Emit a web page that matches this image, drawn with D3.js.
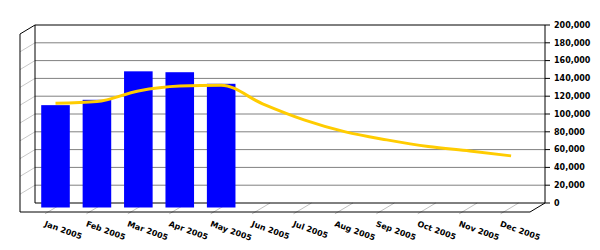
<!DOCTYPE html>
<html>
<head>
<meta charset="utf-8">
<script src="https://cdn.jsdelivr.net/npm/d3@7"></script>
<style>
  body { margin: 0; background: #fff; }
  svg text { font-family: "DejaVu Sans", Verdana, sans-serif; font-weight: bold; font-size: 8px; fill: #000; }
</style>
</head>
<body>
<div class="chart"></div>
<script>
const months = ["Jan 2005", "Feb 2005", "Mar 2005", "Apr 2005", "May 2005", "Jun 2005",
    "Jul 2005", "Aug 2005", "Sep 2005", "Oct 2005", "Nov 2005", "Dec 2005"];
const actual = [115000, 121000, 153000, 152000, 139000];
const trend = [117000, 119000, 131000, 136500, 137500, 116500, 98500, 85000, 76000, 68500, 63500, 58000];
const yTicks = [0, 20000, 40000, 60000, 80000, 100000, 120000, 140000, 160000, 180000, 200000];

const width = 600, height = 250;
// 3d depth offset between front and back plane
const dx = 15, dy = -9;

const svg = d3.select(".chart").append("svg")
    .attr("width", width)
    .attr("height", height);

// x on front plane
const x = d3.scalePoint()
    .domain(months)
    .range([27.3, 524.3])
    .padding(0.5);

// y on back plane
const y = d3.scaleLinear()
    .domain([0, 200000])
    .range([203, 25]);

const backL = 35, backR = 545;
const fmt = d3.format(",");

// left wall diagonals
svg.append("g").selectAll("line")
    .data(yTicks.slice(1, -1))
    .enter()
    .append("line")
    .attr("x1", backL).attr("y1", d => y(d))
    .attr("x2", backL - dx).attr("y2", d => y(d) - dy)
    .style("stroke", "#c8c8c8");

// floor diagonals at each category
svg.append("g").selectAll("line")
    .data(months)
    .enter()
    .append("line")
    .attr("x1", d => x(d) - 3).attr("y1", y(0) - dy + 1.8)
    .attr("x2", d => x(d) + dx).attr("y2", y(0))
    .style("stroke", "#c0c0c0");

// back wall gridlines
svg.append("g").selectAll("line")
    .data(yTicks.slice(1, -1))
    .enter()
    .append("line")
    .attr("x1", backL).attr("x2", backR)
    .attr("y1", d => y(d)).attr("y2", d => y(d))
    .style("stroke", "#808080");

// frame
const frame = svg.append("g").style("stroke", "#000").style("fill", "none");
frame.append("path")
    .attr("d", `M${backL},${y(0)}V${y(200000)}H${backR}V${y(0)}Z`);
frame.append("path")
    .attr("d", `M${backL},${y(200000)}L${backL - dx},${y(200000) - dy}V${y(0) - dy}H${backR - dx}L${backR},${y(0)}`);

// right axis
const axis = svg.append("g");
axis.selectAll("line")
    .data(yTicks)
    .enter()
    .append("line")
    .attr("x1", backR).attr("x2", backR + 5)
    .attr("y1", d => y(d)).attr("y2", d => y(d))
    .style("stroke", "#000");
axis.selectAll("text")
    .data(yTicks)
    .enter()
    .append("text")
    .text(d => fmt(d))
    .attr("x", backR + 9)
    .attr("y", d => y(d))
    .attr("dy", "0.35em");

// bars, drawn half way into the depth
const barW = x.step() * 0.69;
svg.append("g").selectAll("rect")
    .data(actual)
    .enter()
    .append("rect")
    .attr("x", (d, i) => x(months[i]) + dx / 2 - barW / 2)
    .attr("width", barW)
    .attr("y", d => y(d) - dy / 2)
    .attr("height", d => y(0) - y(d))
    .style("fill", "#0000ff");

// trend line
const line = d3.line()
    .x((d, i) => x(months[i]) + dx / 2)
    .y(d => y(d) - dy / 2)
    .curve(d3.curveMonotoneX);

svg.append("path")
    .datum(trend)
    .attr("d", line)
    .style("fill", "none")
    .style("stroke", "#ffcc00")
    .style("stroke-width", 3)
    .style("stroke-linejoin", "round");

// month labels
svg.append("g").selectAll("text")
    .data(months)
    .enter()
    .append("text")
    .text(d => d)
    .attr("transform", d => `translate(${x(d) - 4},${226}) rotate(20)`);
</script>
</body>
</html>
